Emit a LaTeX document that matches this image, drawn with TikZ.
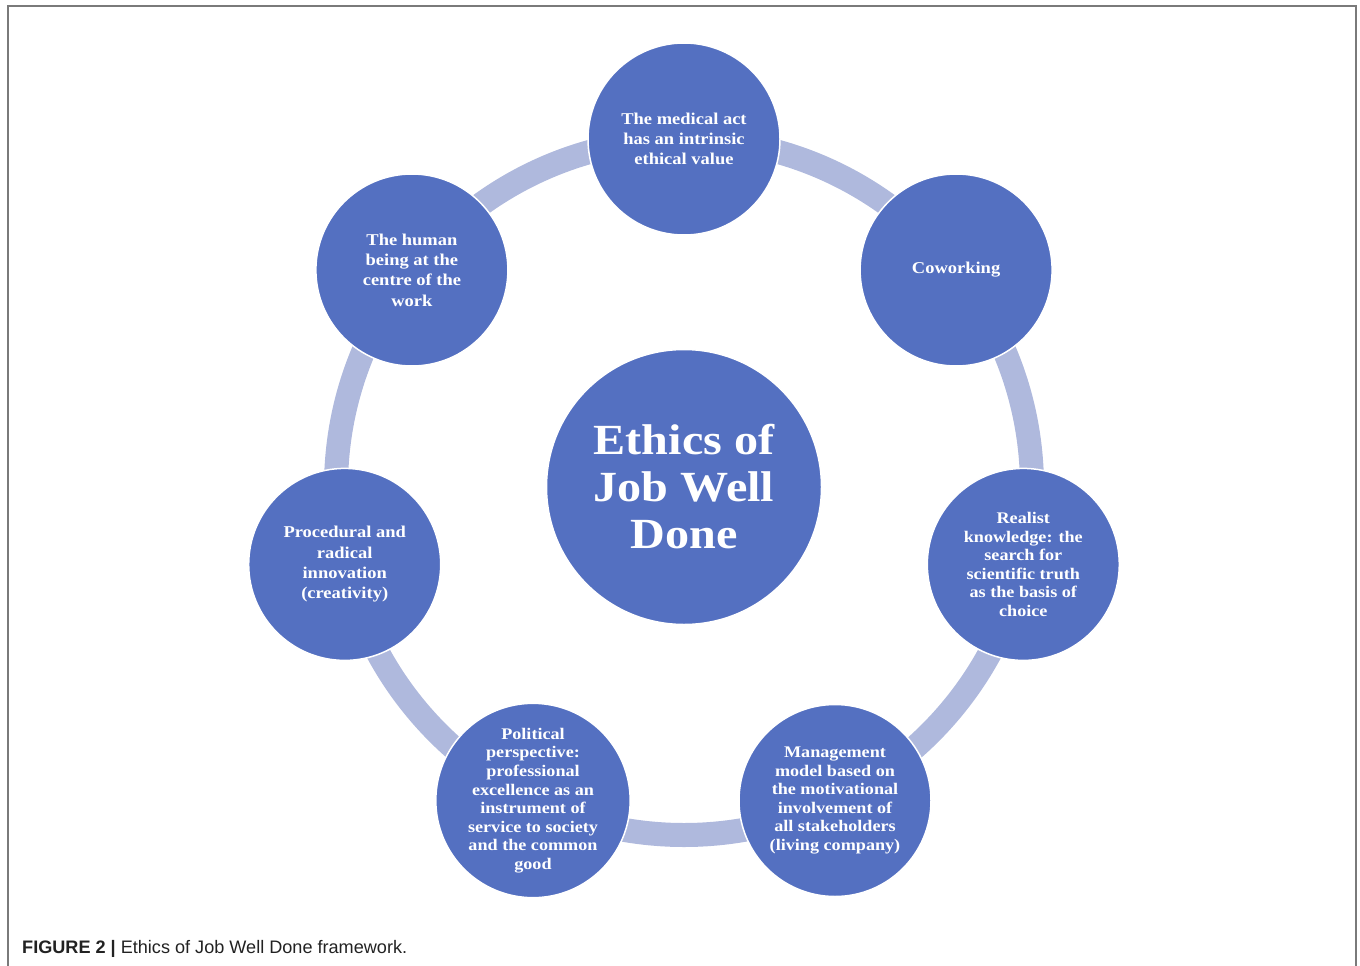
\documentclass[tikz,border=0pt]{standalone}
\usepackage{fontspec}
\setmainfont{Liberation Serif}[FakeStretch=1.12]
\newfontfamily\capfont{Liberation Sans}
\definecolor{disc}{HTML}{5470C1}
\definecolor{band}{HTML}{AFB9DD}
\definecolor{framegray}{HTML}{7A7A7A}
\definecolor{captext}{HTML}{222222}
\begin{document}
\begin{tikzpicture}[x=1pt,y=-1pt,
  disk/.style={circle, fill=disc, draw=white, line width=1.5pt, minimum size=192pt, inner sep=0pt, text=white, align=center, font=\bfseries\fontsize{16.5}{20.3}\selectfont},
  dense/.style={font=\bfseries\fontsize{16.2}{18.6}\selectfont},
  hub/.style={circle, fill=disc, draw=white, line width=1.5pt, minimum size=275pt, inner sep=0pt, text=white, align=center, font=\bfseries\fontsize{43}{47}\selectfont},
  ring/.style={band, line width=24pt}]
\useasboundingbox (0,0) rectangle (1360,966);
\draw[framegray, line width=2pt] (7.5,966) -- (7.5,6.5) -- (1355.5,6.5) -- (1355.5,966);
\coordinate (O) at (684,487);
\draw[ring] (O) circle (348);
\node[hub] (hub) at (684,487) {Ethics of\\Job Well\\Done};
\node[disk] (n0) at (684,139) {The medical act\\has an intrinsic\\ethical value};
\node[disk] (n1) at (956.1,270) {Coworking};
\node[disk, dense] (n2) at (1023.3,564.4) {Realist\\knowledge: the\\search for\\scientific truth\\as the basis of\\choice};
\node[disk, dense] (n3) at (835,800.5) {Management\\model based on\\the motivational\\involvement of\\all stakeholders\\(living company)};
\node[disk, dense] (n4) at (533,800.5) {Political\\perspective:\\professional\\excellence as an\\instrument of\\service to society\\and the common\\good};
\node[disk] (n5) at (344.7,564.4) {Procedural and\\radical\\innovation\\(creativity)};
\node[disk] (n6) at (411.9,270) {The human\\being at the\\centre of the\\work};
\node[anchor=base west, inner sep=0pt, text=captext, font=\capfont\fontsize{18.1}{20}\selectfont] (cap) at (22,953) {\textbf{FIGURE 2 |} Ethics of Job Well Done framework.};
\end{tikzpicture}
\end{document}
